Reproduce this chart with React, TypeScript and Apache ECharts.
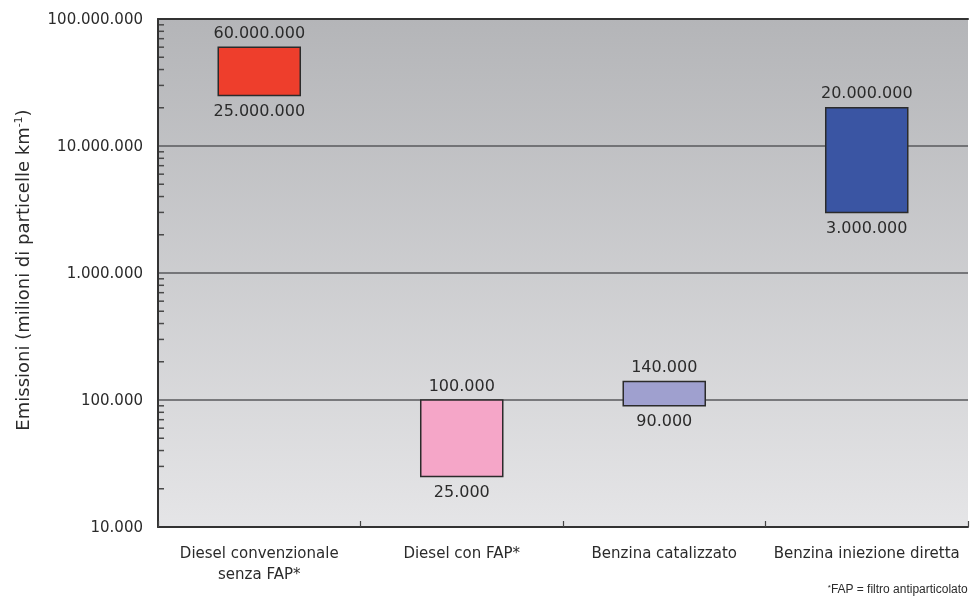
import React, { useEffect, useRef } from "react";
import * as echarts from "echarts";

// Vehicle categories and emission ranges (millions of particles per km)
const categories = [
  "Diesel convenzionale\nsenza FAP*",
  "Diesel con FAP*",
  "Benzina catalizzato",
  "Benzina iniezione diretta",
];
const lowValues = [25000000, 25000, 90000, 3000000];
const highValues = [60000000, 100000, 140000, 20000000];
const barColors = ["#ee3e2c", "#f5a6c8", "#9fa0cf", "#3a55a3"];

// Log-axis structure: decade bounds and the minor tick multipliers inside each decade
const axisMin = 10000;
const axisMax = 100000000;
const decades = [10000, 100000, 1000000, 10000000];
const minorMultipliers = [2, 3, 4, 5, 6, 7, 8, 9];

const yTitle = "Emissioni (milioni di particelle km";
const footnote = "FAP = filtro antiparticolato";

const FONT = "DejaVu Sans";
const TEXT = "#2b2b2b";

const fmt = (v: number) =>
  String(Math.round(v)).replace(/\B(?=(\d{3})+(?!\d))/g, ".");

export default function App() {
  const ref = useRef<HTMLDivElement>(null);

  useEffect(() => {
    if (!ref.current) return;
    const chart = echarts.init(ref.current, undefined, { renderer: "svg" });

    const minorTicks: number[][] = [];
    decades.forEach((d) =>
      minorMultipliers.forEach((m) => minorTicks.push([0, d * m]))
    );

    const option: any = {
      animation: false,
      grid: {
        left: 158,
        right: 2,
        top: 19,
        bottom: 73,
        show: true,
        borderWidth: 0,
        backgroundColor: new echarts.graphic.LinearGradient(0, 0, 0, 1, [
          { offset: 0, color: "#b4b5b8" },
          { offset: 1, color: "#e5e5e7" },
        ]),
      },
      xAxis: [
        {
          type: "category",
          data: categories,
          boundaryGap: true,
          axisLine: { show: true, lineStyle: { color: "#333", width: 2 } },
          axisTick: {
            show: true,
            inside: true,
            length: 6,
            lineStyle: { color: "#444", width: 1.2 },
          },
          axisLabel: {
            interval: 0,
            margin: 15,
            fontFamily: FONT,
            fontSize: 15,
            lineHeight: 21,
            color: TEXT,
          },
          splitLine: { show: false },
        },
        {
          type: "category",
          data: categories,
          position: "top",
          axisLine: { show: true, lineStyle: { color: "#333", width: 2 } },
          axisTick: { show: false },
          axisLabel: { show: false },
          splitLine: { show: false },
        },
      ],
      yAxis: {
        type: "log",
        logBase: 10,
        min: axisMin,
        max: axisMax,
        axisLine: { show: true, onZero: false, lineStyle: { color: "#333", width: 2 } },
        axisTick: { show: false },
        axisLabel: {
          margin: 15,
          fontFamily: FONT,
          fontSize: 15,
          color: TEXT,
          formatter: (v: number) => fmt(v),
        },
        splitLine: { show: true, lineStyle: { color: "#58595c", width: 1.5 } },
      },
      series: [
        {
          type: "custom",
          name: "minorTicks",
          xAxisIndex: 0,
          data: minorTicks,
          encode: { x: 0, y: 1 },
          silent: true,
          renderItem: (params: any, api: any) => {
            const p = api.coord([0, api.value(1)]);
            const half = api.size([1, 0])[0] / 2;
            const x0 = p[0] - half + 1;
            return {
              type: "line",
              shape: { x1: x0, y1: p[1], x2: x0 + 5, y2: p[1] },
              style: { stroke: "#4a4a4a", lineWidth: 1.5 },
            };
          },
        },
        {
          type: "custom",
          name: "ranges",
          xAxisIndex: 0,
          data: categories.map((c, i) => [i, lowValues[i], highValues[i]]),
          encode: { x: 0, y: [1, 2] },
          renderItem: (params: any, api: any) => {
            const i = api.value(0);
            const lo = api.value(1);
            const hi = api.value(2);
            const pLo = api.coord([i, lo]);
            const pHi = api.coord([i, hi]);
            const w = api.size([1, 0])[0] * 0.405;
            return {
              type: "group",
              children: [
                {
                  type: "rect",
                  shape: { x: pLo[0] - w / 2, y: pHi[1], width: w, height: pLo[1] - pHi[1] },
                  style: { fill: barColors[i], stroke: "#2b2b2b", lineWidth: 1.5 },
                },
                {
                  type: "text",
                  x: pHi[0],
                  y: pHi[1] - 15,
                  style: {
                    text: fmt(hi),
                    align: "center",
                    verticalAlign: "middle",
                    fontFamily: FONT,
                    fontSize: 16,
                    fill: TEXT,
                  },
                },
                {
                  type: "text",
                  x: pLo[0],
                  y: pLo[1] + 15,
                  style: {
                    text: fmt(lo),
                    align: "center",
                    verticalAlign: "middle",
                    fontFamily: FONT,
                    fontSize: 16,
                    fill: TEXT,
                  },
                },
              ],
            };
          },
        },
      ],
      graphic: [
        {
          type: "text",
          x: 22,
          y: 270,
          rotation: Math.PI / 2,
          style: {
            text: "{n|" + yTitle + "}{s|-1}{n|)}",
            align: "center",
            verticalAlign: "middle",
            rich: {
              n: { fontFamily: FONT, fontSize: 18, fill: TEXT },
              s: { fontFamily: FONT, fontSize: 11, fill: TEXT, verticalAlign: "top" },
            },
          },
        },
        {
          type: "text",
          right: 2,
          top: 583,
          style: {
            text: "{s|*}{t|" + footnote + "}",
            rich: {
              s: { fontFamily: "Liberation Sans", fontSize: 8, fill: TEXT, verticalAlign: "top" },
              t: { fontFamily: "Liberation Sans", fontSize: 12, fill: TEXT },
            },
          },
        },
      ],
    };

    chart.setOption(option);
    return () => chart.dispose();
  }, []);

  return (
    <div
      ref={ref}
      style={{ position: "fixed", left: 0, top: 0, width: 970, height: 600 }}
    />
  );
}
